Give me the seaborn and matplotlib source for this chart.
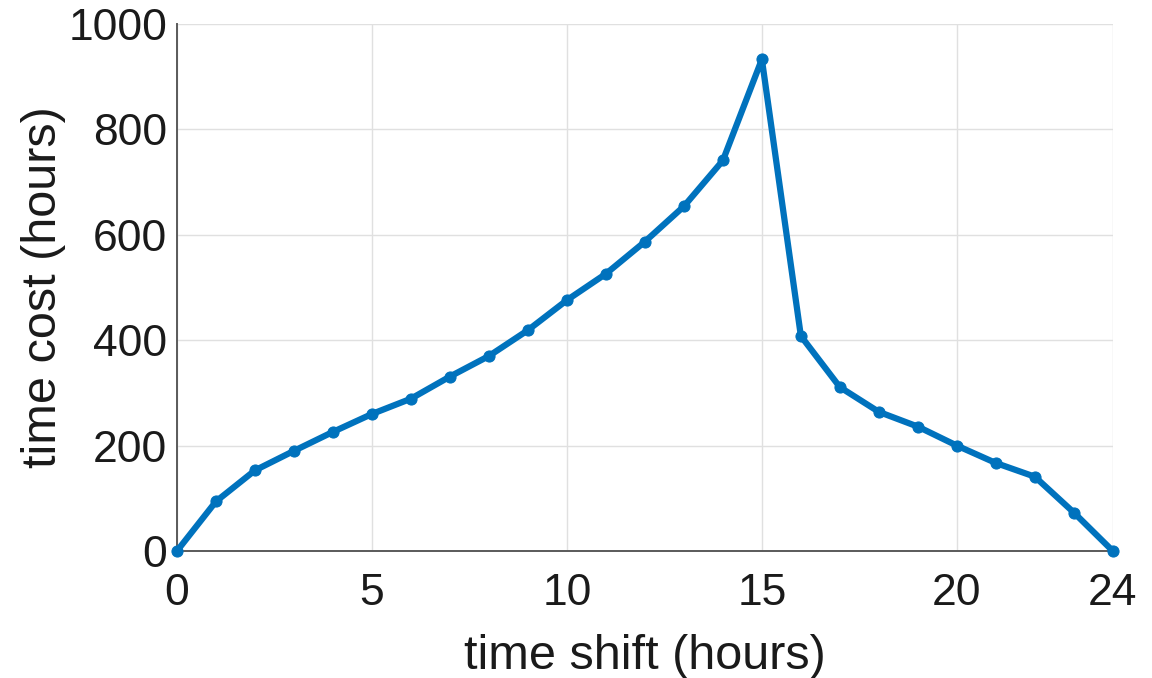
import numpy as np
import pandas as pd
import matplotlib
matplotlib.use("Agg")
import matplotlib.pyplot as plt
import seaborn as sns

# Hourly time shift and the resulting time cost
shift_hours = list(range(0, 25))
cost_hours = [0, 94, 153, 190, 226, 260, 289, 331, 370, 419, 476, 526, 587,
              654, 741, 933, 408, 311, 264, 236, 200, 167, 141, 73, 0]
x_ticks = [0, 5, 10, 15, 20, 24]
y_ticks = [0, 200, 400, 600, 800, 1000]

df = pd.DataFrame({"shift": shift_hours, "cost": cost_hours})

sns.set_theme(style="whitegrid")
plt.rcParams["font.family"] = ["Liberation Sans", "DejaVu Sans"]

fig = plt.figure(figsize=(11.52, 6.78), dpi=100)
ax = fig.add_axes([0.1536, 0.1873, 0.8124, 0.7773])

line_color = "#0072BD"
sns.lineplot(data=df, x="shift", y="cost", ax=ax, color=line_color,
             linewidth=4.5, marker="o", markersize=8,
             markeredgecolor=line_color, markerfacecolor=line_color,
             clip_on=False, zorder=3)

ax.set_xlim(0, 24)
ax.set_ylim(0, 1000)
ax.set_xticks(x_ticks)
ax.set_yticks(y_ticks)
ax.set_xticklabels([str(t) for t in x_ticks])
ax.set_yticklabels([str(t) for t in y_ticks])

ax.set_facecolor("white")
ax.grid(True, color="#e0e0e0", linewidth=1.0)
for side in ["top", "right"]:
    ax.spines[side].set_visible(False)
for side in ["left", "bottom"]:
    ax.spines[side].set_visible(True)
    ax.spines[side].set_color("#5a5a5a")
    ax.spines[side].set_linewidth(1.4)

ax.tick_params(axis="both", direction="in", length=7, width=1.2,
               color="#5a5a5a", labelsize=32, labelcolor="#1a1a1a")
ax.tick_params(axis="x", pad=16)
ax.tick_params(axis="y", pad=7)

ax.set_xlabel("time shift (hours)", fontsize=35, color="#1a1a1a", labelpad=14)
ax.set_ylabel("time cost (hours)", fontsize=35, color="#1a1a1a", labelpad=2)

fig.savefig("out.png", dpi=100, facecolor="white")
